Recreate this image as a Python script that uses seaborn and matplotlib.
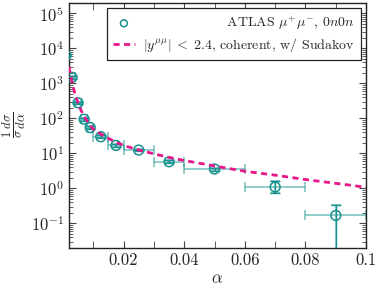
import numpy as np
import pandas as pd
import matplotlib
matplotlib.use("Agg")
import matplotlib.pyplot as plt
import matplotlib.ticker as mticker
import seaborn as sns

# ATLAS data points (bin centres, half widths, values, errors)
alpha_pts = [0.001, 0.003, 0.005, 0.007, 0.009, 0.0125, 0.0175, 0.025, 0.035, 0.05, 0.07, 0.09]
alpha_half = [0.001, 0.001, 0.001, 0.001, 0.001, 0.0025, 0.0025, 0.005, 0.005, 0.01, 0.01, 0.01]
dsig_pts = [6300, 1500, 280, 95, 55, 30, 17, 12.5, 5.8, 3.6, 1.1, 0.17]
err_lo = [300, 120, 25, 8, 5, 3, 1.5, 1.0, 0.6, 0.35, 0.35, 0.17]
err_hi = [300, 120, 25, 8, 5, 3, 1.5, 1.0, 0.6, 0.35, 0.5, 0.17]

# theory curve
alpha_th = [0.002, 0.003, 0.004, 0.005, 0.006, 0.007, 0.008, 0.009, 0.01, 0.0125, 0.015,
            0.0175, 0.02, 0.025, 0.03, 0.035, 0.04, 0.05, 0.06, 0.07, 0.08, 0.09, 0.1]
dsig_th = [3000, 1100, 500, 280, 170, 115, 85, 63, 50, 36, 27,
           21, 17, 12.5, 9.8, 7.7, 6.3, 4.4, 3.1, 2.4, 1.8, 1.4, 1.08]

lab_data = r'ATLAS $\mu^{+}\mu^{-}$, $0n0n$'
lab_theo = r'$|y^{\mu\mu}|\;<\;2.4$, coherent, w/ Sudakov'

sns.set_style("ticks")
plt.rcParams['font.family'] = 'serif'
plt.rcParams['font.serif'] = ['cmr10']
plt.rcParams['mathtext.fontset'] = 'cm'
plt.rcParams['axes.unicode_minus'] = False
plt.rcParams['axes.formatter.use_mathtext'] = True

teal = '#17928f'
magenta = '#e8168a'

fig = plt.figure(figsize=(3.83, 2.9), dpi=100)
ax = fig.add_axes([0.180, 0.145, 0.776, 0.845])

ax.errorbar(alpha_pts, dsig_pts, xerr=alpha_half, yerr=[err_lo, err_hi], fmt='none',
            ecolor=teal, alpha=0.55, elinewidth=1.2, capsize=3.5, capthick=1.2, zorder=2)
ax.errorbar(alpha_pts, dsig_pts, yerr=[err_lo, err_hi], fmt='none',
            ecolor=teal, elinewidth=1.0, capsize=3.5, capthick=1.0, zorder=3)

df_pts = pd.DataFrame({'alpha': alpha_pts, 'dsig': dsig_pts})
n_before = len(ax.collections)
sns.scatterplot(data=df_pts, x='alpha', y='dsig', ax=ax, marker='o', s=50,
                facecolor='none', edgecolor=teal, linewidth=1.1, zorder=4)
h_pts = ax.collections[n_before]

df_th = pd.DataFrame({'alpha': alpha_th, 'dsig': dsig_th})
sns.lineplot(data=df_th, x='alpha', y='dsig', ax=ax, color=magenta, lw=2.0,
             linestyle=(0, (2.2, 1.6)), errorbar=None, zorder=5)
h_th = ax.lines[-1]

ax.set_yscale('log')
ax.set_xlim(0.002, 0.1)
ax.set_ylim(0.02, 2e5)

ax.xaxis.set_major_locator(mticker.FixedLocator([0.02, 0.04, 0.06, 0.08, 0.1]))
ax.xaxis.set_major_formatter(mticker.FixedFormatter(['0.02', '0.04', '0.06', '0.08', '0.1']))
ax.xaxis.set_minor_locator(mticker.MultipleLocator(0.01))
ax.yaxis.set_major_locator(mticker.FixedLocator([1e-1, 1e0, 1e1, 1e2, 1e3, 1e4, 1e5]))
ax.yaxis.set_minor_locator(mticker.LogLocator(base=10, subs=np.arange(2, 10), numticks=12))
ax.yaxis.set_minor_formatter(mticker.NullFormatter())

ax.tick_params(which='both', direction='in', top=True, right=True, labelsize=12, color='#444444')
ax.tick_params(which='major', length=5, width=0.8)
ax.tick_params(which='minor', length=3, width=0.6)
ax.tick_params(axis='x', which='minor', length=5)
for s in ax.spines.values():
    s.set_linewidth(1.0)
    s.set_color('#222222')

ax.set_xlabel(r'$\alpha$', fontsize=12, labelpad=2)
ax.set_ylabel(r'$\frac{1}{\sigma}\frac{d\sigma}{d\alpha}$', fontsize=13, labelpad=2)


def make_legend(pad):
    lab = (r'$\hspace{%.3f}$' % pad + lab_data) if pad > 0 else lab_data
    lg = ax.legend([h_pts, h_th], [lab, lab_theo], loc='upper right', fontsize=10,
                   frameon=True, fancybox=False, edgecolor='#222222', framealpha=1,
                   borderaxespad=0.4, handlelength=1.6, handletextpad=0.6,
                   labelspacing=0.3, borderpad=0.4, markerscale=0.7)
    lg.get_frame().set_linewidth(0.9)
    return lg


# right-align the legend texts by padding the shorter one
renderer = fig.canvas.get_renderer()
pad = 0.0
leg = make_legend(pad)
for _ in range(4):
    fig.canvas.draw()
    w = [t.get_window_extent(renderer).width for t in leg.get_texts()]
    diff = w[1] - w[0]
    if abs(diff) < 0.5:
        break
    pad += diff / 10.0
    leg.remove()
    leg = make_legend(pad)

fig.savefig('out.png', dpi=100)
